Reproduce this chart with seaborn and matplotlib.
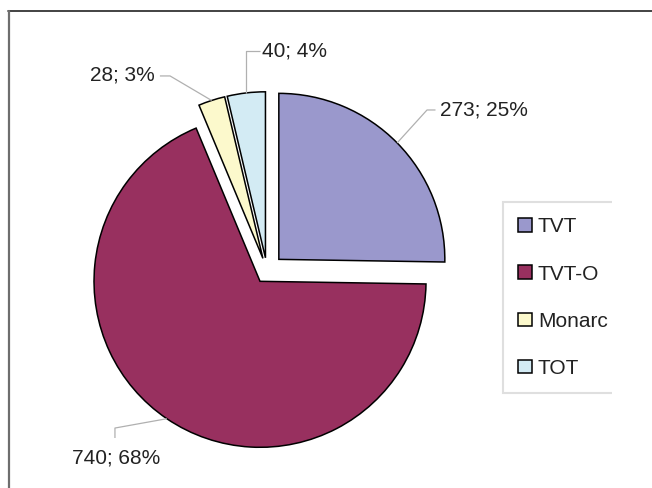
import matplotlib
matplotlib.use('Agg')
import numpy as np
import matplotlib.pyplot as plt
import seaborn as sns
from matplotlib.lines import Line2D
from matplotlib.patches import Rectangle

categories = ['TVT', 'TVT-O', 'Monarc', 'TOT']
counts = [273, 740, 28, 40]

colors = ['#9a98cc', '#98305f', '#fcf9cc', '#d3ebf4']
explode = [0.1, 0.075, 0.08, 0.08]

sns.set_style('white')
plt.rcParams['font.family'] = ['Liberation Sans', 'DejaVu Sans']

total = sum(counts)
labels = [f'{c}; {round(100 * c / total)}%' for c in counts]

W, H = 652, 488
fig = plt.figure(figsize=(W / 100, H / 100), dpi=100)
ax = fig.add_axes([0, 0, 1, 1])
wedges, _ = ax.pie(counts, colors=colors, explode=explode, startangle=90,
                   counterclock=False,
                   wedgeprops=dict(edgecolor='black', linewidth=1.1))

# 1 data unit = 166 px, pie centre at (267, 271) px from top-left
scale, cx, cy = 166, 267, 271
ax.set_xlim(-cx / scale, (W - cx) / scale)
ax.set_ylim(-(H - cy) / scale, cy / scale)
ax.set_aspect('auto')
ax.axis('off')

# leader elbows (None = keep x of start point), text position, alignment
layout = [
    ([(0.964, 0.970), (1.015, 0.970)], (1.042, 0.970), 'left'),
    ([(-0.916, -0.946), (-0.916, -1.006)], (-0.910, -1.127), 'center'),
    ([(-0.584, 1.175), (-0.645, 1.175)], (-0.675, 1.181), 'right'),
    ([(None, 1.325), (-0.042, 1.325)], (-0.030, 1.325), 'left'),
]

for w, lab, (elbows, txy, ha) in zip(wedges, labels, layout):
    mid = np.deg2rad((w.theta1 + w.theta2) / 2)
    sx = w.center[0] + w.r * np.cos(mid)
    sy = w.center[1] + w.r * np.sin(mid)
    xs, ys = [sx], [sy]
    for ex, ey in elbows:
        xs.append(sx if ex is None else ex)
        ys.append(ey)
    ax.plot(xs, ys, color='#b0b0b0', lw=0.9, solid_capstyle='butt')
    ax.text(txy[0], txy[1], lab, ha=ha, va='center', fontsize=15, color='#222222')

leg = fig.legend(wedges, categories, loc='upper left',
                 bbox_to_anchor=(503 / W, 1 - 202 / H), borderaxespad=0,
                 fontsize=15, frameon=True, fancybox=False, edgecolor='#d8d8d8',
                 handlelength=0.63, handleheight=0.63, handletextpad=0.3,
                 labelspacing=1.35, borderpad=0.74)
leg.get_frame().set_linewidth(1.5)
for t in leg.get_texts():
    t.set_color('#222222')

# chart is cut off on the right side
fig.add_artist(Rectangle((612 / W, 0), (W - 612) / W, 1 - 14 / H,
                         facecolor='white', edgecolor='none',
                         transform=fig.transFigure, zorder=10))

# frame
fig.add_artist(Line2D([8 / W, 1], [1 - 11 / H] * 2, color='#222222', lw=1.2,
                      transform=fig.transFigure, zorder=11))
fig.add_artist(Line2D([9 / W] * 2, [0, 1 - 11 / H], color='#6e6e6e', lw=1.6,
                      transform=fig.transFigure, zorder=11))

fig.savefig('out.png', dpi=100)
